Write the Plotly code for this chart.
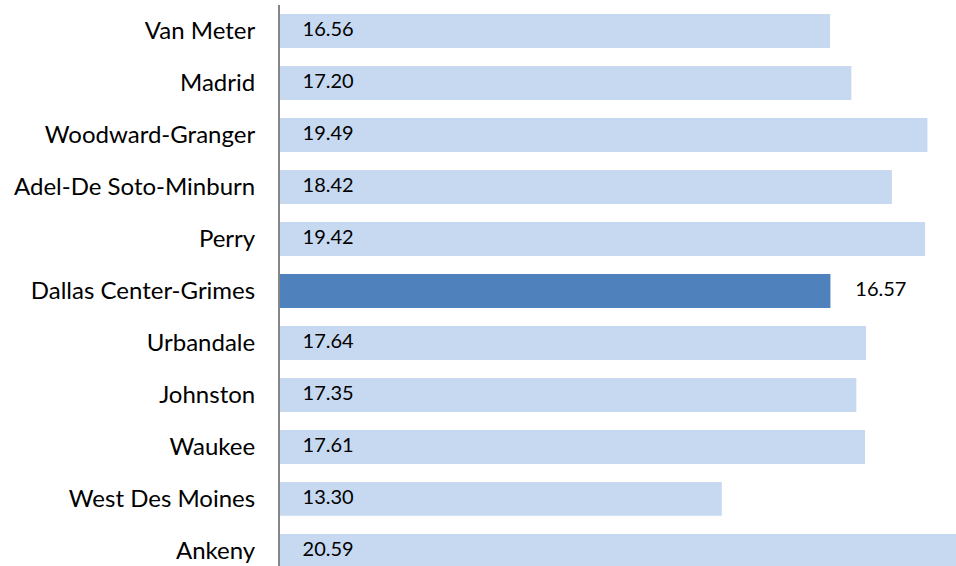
import plotly.graph_objects as go

categories = ["Van Meter", "Madrid", "Woodward-Granger", "Adel-De Soto-Minburn", "Perry",
              "Dallas Center-Grimes", "Urbandale", "Johnston", "Waukee", "West Des Moines", "Ankeny"]
values = [16.56, 17.20, 19.49, 18.42, 19.42, 16.57, 17.64, 17.35, 17.61, 13.30, 20.59]
highlight = "Dallas Center-Grimes"

LIGHT = "#C6D9F1"
DARK = "#4F81BD"

# bottom-to-top order for plotly
cats = categories[::-1]
vals = values[::-1]
colors = [DARK if c == highlight else LIGHT for c in cats]

label_x = [v + 0.75 if c == highlight else 0.68 for c, v in zip(cats, vals)]
labels = [f"{v:.2f}" for v in vals]

FONT = "Lato"

fig = go.Figure()
fig.add_trace(go.Bar(
    x=vals, y=cats, orientation="h",
    marker=dict(color=colors, line=dict(width=0)),
    width=0.65, hoverinfo="skip", showlegend=False,
))
fig.add_trace(go.Scatter(
    x=label_x, y=cats, mode="text", text=labels,
    textposition="middle right",
    textfont=dict(family=FONT, size=20, color="#000000"),
    hoverinfo="skip", showlegend=False, cliponaxis=False,
))

fig.update_layout(
    width=956, height=566,
    margin=dict(l=280, r=0, t=5, b=0),
    paper_bgcolor="white", plot_bgcolor="white",
    font=dict(family=FONT, size=24, color="#000000"),
    xaxis=dict(range=[0, 20.35], visible=False, showgrid=False, zeroline=False),
    yaxis=dict(
        type="category", categoryorder="array", categoryarray=cats,
        range=[-0.289, 10.5],
        showline=True, linecolor="#868686", linewidth=2,
        showgrid=False, zeroline=False, ticks="",
        ticklabelstandoff=18,
        tickfont=dict(family=FONT, size=24, color="#000000"),
    ),
)

fig.write_html("out.html", config={"displayModeBar": False},
               post_script="document.body.style.margin='0px';document.body.style.overflow='hidden';")
